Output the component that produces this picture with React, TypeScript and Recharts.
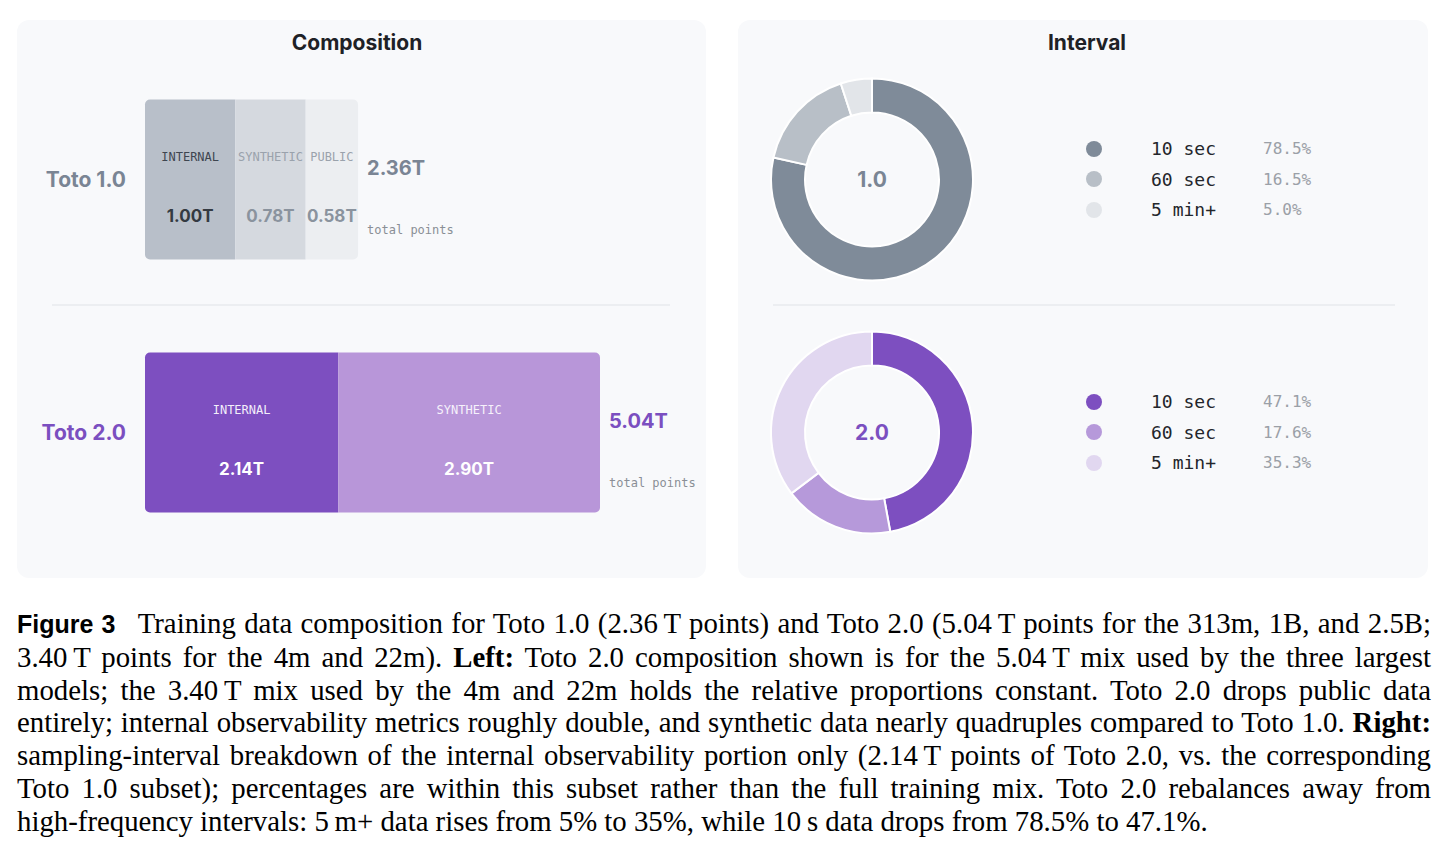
import React from "react";
import {
  BarChart,
  Bar,
  XAxis,
  YAxis,
  LabelList,
  PieChart,
  Pie,
  Legend,
} from "recharts";

// ─── Data ────────────────────────────────────────────────────────────────────

const versions = ["Toto 1.0", "Toto 2.0"];
const shortVersions = ["1.0", "2.0"];
const segmentNames = ["INTERNAL", "SYNTHETIC", "PUBLIC"];
const internalT = [1.0, 2.14];
const syntheticT = [0.78, 2.9];
const publicT = [0.58, 0];
const totalT = [2.36, 5.04];

const intervalNames = ["10 sec", "60 sec", "5 min+"];
const toto1Share = [78.5, 16.5, 5.0];
const toto2Share = [47.1, 17.6, 35.3];

// ─── Styling ─────────────────────────────────────────────────────────────────

const SANS = "Inter, 'Noto Sans', sans-serif";
const MONO = "'DejaVu Sans Mono', 'Liberation Mono', monospace";
const SERIF = "'Liberation Serif', 'DejaVu Serif', serif";
const PANEL_BG = "#F8F9FB";

const accent = ["#7A8594", "#7B4FC0"];
const barFill = [
  ["#B8BFC9", "#D5D9DF", "#ECEEF1"],
  ["#7D4FC0", "#B896D9", "#E1D7F0"],
];
const nameColor = [
  ["#3E4550", "#9AA2AC", "#9AA2AC"],
  ["#F3EEFA", "#F6F1FB", "#F6F1FB"],
];
const valueColor = [
  ["#343A42", "#8A939E", "#8A939E"],
  ["#FFFFFF", "#FFFFFF", "#FFFFFF"],
];
const pieFill = [
  ["#7F8B99", "#B8BFC7", "#E2E5E9"],
  ["#7D4FC0", "#B699DA", "#E1D7F0"],
];

const segValues = [internalT, syntheticT, publicT];

const barData = versions.map((version, i) => ({
  version,
  internal: internalT[i],
  synthetic: syntheticT[i],
  public: publicT[i],
}));

const shareSets = [toto1Share, toto2Share];
const pieData = shareSets.map((shares, v) =>
  intervalNames.map((name, i) => ({ name, share: shares[i], fill: pieFill[v][i] })),
);

// ─── Helpers ─────────────────────────────────────────────────────────────────

function roundedPath(x: number, y: number, w: number, h: number, rl: number, rr: number) {
  return [
    `M${x + rl},${y}`,
    `H${x + w - rr}`,
    rr ? `A${rr},${rr} 0 0 1 ${x + w},${y + rr}` : "",
    `V${y + h - rr}`,
    rr ? `A${rr},${rr} 0 0 1 ${x + w - rr},${y + h}` : "",
    `H${x + rl}`,
    rl ? `A${rl},${rl} 0 0 1 ${x},${y + h - rl}` : "",
    `V${y + rl}`,
    rl ? `A${rl},${rl} 0 0 1 ${x + rl},${y}` : "",
    "Z",
  ].join(" ");
}

function lastSegment(index: number) {
  let last = 0;
  segValues.forEach((vals, s) => {
    if (vals[index] > 0) last = s;
  });
  return last;
}

const segShape = (seg: number) => (props: any) => {
  const { x, y, width, height, index } = props;
  if (!width || width <= 0) return <g />;
  const rl = seg === 0 ? 5 : 0;
  const rr = seg === lastSegment(index) ? 5 : 0;
  return <path d={roundedPath(x, y, width, height, rl, rr)} fill={barFill[index][seg]} />;
};

const segLabel = (seg: number) => (props: any) => {
  const { x, y, width, height, index } = props;
  const v = segValues[seg][index];
  const cx = x + width / 2;
  const cy = y + height / 2;
  const isLast = seg === segValues.length - 1;
  return (
    <g>
      {v > 0 && (
        <>
          <text
            x={cx}
            y={cy - 23}
            textAnchor="middle"
            dominantBaseline="central"
            fontFamily={MONO}
            fontSize={12}
            fill={nameColor[index][seg]}
          >
            {segmentNames[seg]}
          </text>
          <text
            x={cx}
            y={cy + 36}
            textAnchor="middle"
            dominantBaseline="central"
            fontFamily={SANS}
            fontWeight={700}
            fontSize={17}
            fill={valueColor[index][seg]}
          >
            {v.toFixed(2)}T
          </text>
        </>
      )}
      {isLast && (
        <>
          <text
            x={x + width + 9}
            y={cy - 12}
            dominantBaseline="central"
            fontFamily={SANS}
            fontWeight={700}
            fontSize={20}
            fill={accent[index]}
          >
            {totalT[index].toFixed(2)}T
          </text>
          <text
            x={x + width + 9}
            y={cy + 50}
            dominantBaseline="central"
            fontFamily={MONO}
            fontSize={12}
            fill="#8A8F96"
          >
            total points
          </text>
        </>
      )}
    </g>
  );
};

function VersionTick(props: any) {
  const { x, y, payload } = props;
  const i = versions.indexOf(payload.value);
  return (
    <text
      x={x}
      y={y}
      textAnchor="end"
      dominantBaseline="central"
      fontFamily={SANS}
      fontWeight={700}
      fontSize={21}
      fill={accent[i]}
    >
      {payload.value}
    </text>
  );
}

// center text of the donut, drawn once from the first sector's pie centre
const centerLabel = (v: number) => (props: any) => {
  if (props.index !== 0) return null;
  return (
    <text
      x={props.cx}
      y={props.cy}
      textAnchor="middle"
      dominantBaseline="central"
      fontFamily={SANS}
      fontWeight={700}
      fontSize={21}
      fill={accent[v]}
    >
      {shortVersions[v]}
    </text>
  );
};

function IntervalLegend({ payload, shares }: { payload?: any[]; shares: number[] }) {
  const items = [...(payload ?? [])].sort(
    (a, b) => intervalNames.indexOf(a.value) - intervalNames.indexOf(b.value),
  );
  return (
    <div>
      {items.map((p) => {
        const i = intervalNames.indexOf(p.value);
        return (
          <div key={p.value} style={{ display: "flex", alignItems: "center", height: 30.5 }}>
            <span
              style={{ width: 16, height: 16, borderRadius: 8, background: p.color, display: "inline-block" }}
            />
            <span
              style={{ marginLeft: 49, width: 112, fontFamily: MONO, fontSize: 18, color: "#23262B" }}
            >
              {p.value}
            </span>
            <span style={{ fontFamily: MONO, fontSize: 16, color: "#9BA0A7" }}>
              {shares[i].toFixed(1)}%
            </span>
          </div>
        );
      })}
    </div>
  );
}

const panelStyle: React.CSSProperties = {
  position: "absolute",
  background: PANEL_BG,
  borderRadius: 12,
  top: 20,
  height: 558,
};

const titleStyle: React.CSSProperties = {
  position: "absolute",
  top: 30,
  textAlign: "center",
  fontFamily: SANS,
  fontWeight: 700,
  fontSize: 21,
  color: "#1E2126",
};

const dividerStyle: React.CSSProperties = {
  position: "absolute",
  top: 304,
  height: 2,
  background: "#ECEEF1",
};

const captionLines: React.ReactNode[] = [
  <>
    <b style={{ fontFamily: "'Liberation Sans', Arial, sans-serif", fontSize: 25 }}>Figure 3</b>
    {"\u2002 Training data composition for Toto 1.0 (2.36\u2009T points) and Toto 2.0 (5.04\u2009T points for the 313m, 1B, and 2.5B;"}
  </>,
  <>
    {"3.40\u2009T points for the 4m and 22m). "}
    <b>Left:</b>
    {" Toto 2.0 composition shown is for the 5.04\u2009T mix used by the three largest"}
  </>,
  "models; the 3.40\u2009T mix used by the 4m and 22m holds the relative proportions constant. Toto 2.0 drops public data",
  <>
    {"entirely; internal observability metrics roughly double, and synthetic data nearly quadruples compared to Toto 1.0. "}
    <b>Right:</b>
  </>,
  "sampling-interval breakdown of the internal observability portion only (2.14\u2009T points of Toto 2.0, vs. the corresponding",
  "Toto 1.0 subset); percentages are within this subset rather than the full training mix. Toto 2.0 rebalances away from",
  "high-frequency intervals: 5\u2009m+ data rises from 5% to 35%, while 10\u2009s data drops from 78.5% to 47.1%.",
];

// ─── Component ───────────────────────────────────────────────────────────────

export default function App() {
  return (
    <div style={{ position: "absolute", left: 0, top: 0, width: 1446, height: 852, background: "#fff" }}>
      {/* ── Left panel: composition ── */}
      <div style={{ ...panelStyle, left: 17, width: 689 }} />
      <div style={{ ...titleStyle, left: 17, width: 680 }}>Composition</div>
      <div style={{ ...dividerStyle, left: 52, width: 618 }} />
      <div style={{ position: "absolute", left: 17, top: 20 }}>
        <BarChart
          width={689}
          height={558}
          data={barData}
          layout="vertical"
          barSize={160}
          margin={{ top: 32.5, bottom: 19.5, left: 18, right: 106 }}
          style={{ overflow: "visible" }}
        >
          <XAxis type="number" hide domain={[0, "dataMax"]} />
          <YAxis
            type="category"
            dataKey="version"
            width={110}
            axisLine={false}
            tickLine={false}
            tickSize={0}
            tickMargin={19}
            tick={<VersionTick />}
          />
          {["internal", "synthetic", "public"].map((key, s) => (
            <Bar
              key={key}
              dataKey={key}
              stackId="mix"
              isAnimationActive={false}
              shape={segShape(s)}
            >
              <LabelList dataKey={key} content={segLabel(s)} />
            </Bar>
          ))}
        </BarChart>
      </div>

      {/* ── Right panel: interval ── */}
      <div style={{ ...panelStyle, left: 738, width: 690 }} />
      <div style={{ ...titleStyle, left: 738, width: 698 }}>Interval</div>
      <div style={{ ...dividerStyle, left: 773, width: 622 }} />
      {pieData.map((data, v) => (
        <div key={v} style={{ position: "absolute", left: 738, top: v === 0 ? 52.5 : 305.5 }}>
          <PieChart width={690} height={253} margin={{ top: 0, right: 0, bottom: 0, left: 0 }}>
            <Pie
              data={data}
              dataKey="share"
              nameKey="name"
              cx={134}
              cy={126.5}
              innerRadius={67}
              outerRadius={101}
              startAngle={90}
              endAngle={-270}
              stroke="#FFFFFF"
              strokeWidth={2}
              label={centerLabel(v)}
              labelLine={false}
              isAnimationActive={false}
            />
            <Legend
              layout="vertical"
              align="right"
              verticalAlign="middle"
              wrapperStyle={{ left: 348, top: 80.75, right: "auto", width: 260 }}
              content={(props: any) => <IntervalLegend payload={props.payload} shares={shareSets[v]} />}
            />
          </PieChart>
        </div>
      ))}

      {/* ── Caption ── */}
      <div
        style={{
          position: "absolute",
          left: 17,
          top: 607,
          width: 1414,
          fontFamily: SERIF,
          fontSize: 28.8,
          lineHeight: "32.8px",
          color: "#000",
        }}
      >
        {captionLines.map((line, i) => (
          <div
            key={i}
            style={{
              textAlign: "justify",
              textAlignLast: i === captionLines.length - 1 ? "left" : "justify",
              whiteSpace: "nowrap",
            }}
          >
            {line}
          </div>
        ))}
      </div>
    </div>
  );
}
